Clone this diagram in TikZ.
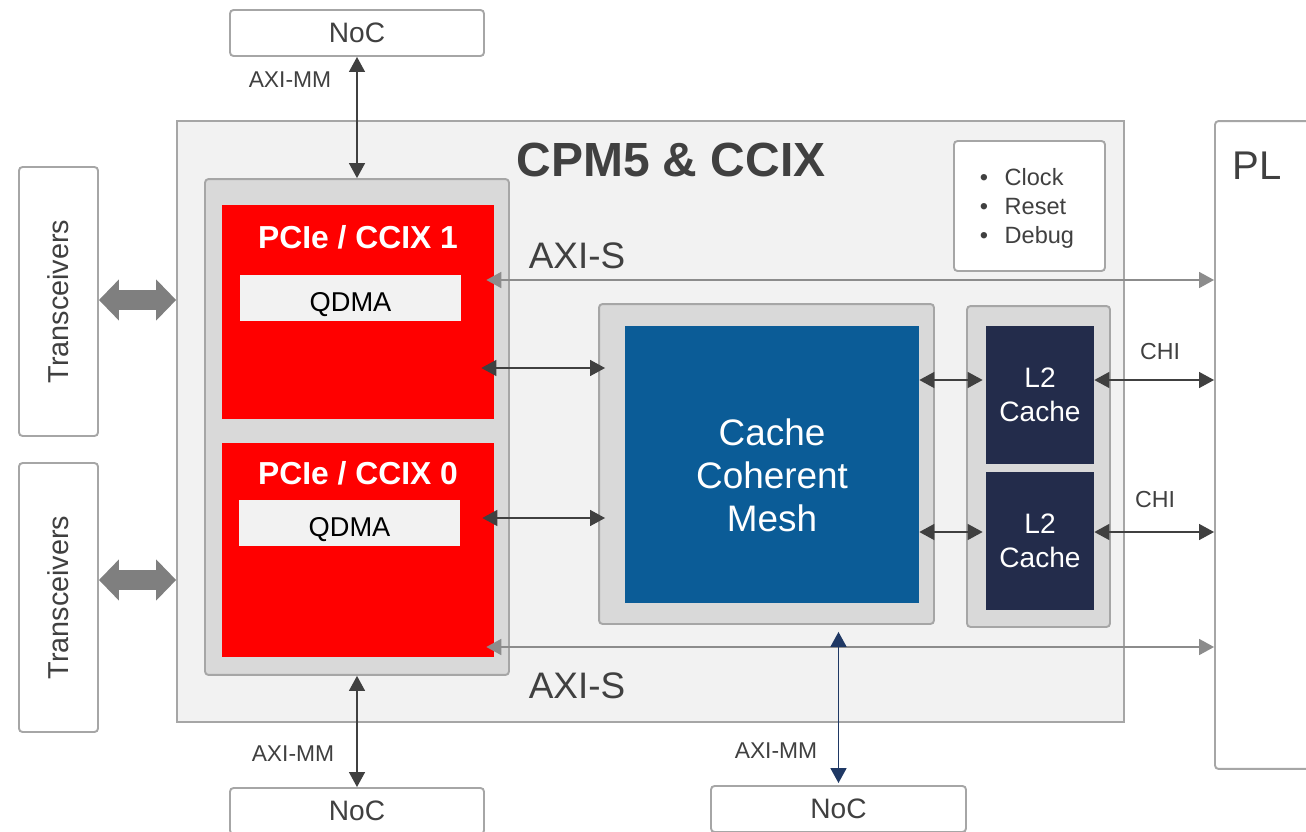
\documentclass[tikz,border=0pt]{standalone}
\usepackage{fontspec}
\setmainfont{Liberation Sans}
\usetikzlibrary{arrows.meta,positioning,calc}
\definecolor{boxline}{HTML}{A6A6A6}
\definecolor{cpmfill}{HTML}{F2F2F2}
\definecolor{holder}{HTML}{D9D9D9}
\definecolor{pcired}{HTML}{FF0000}
\definecolor{meshblue}{HTML}{0B5C97}
\definecolor{cachenavy}{HTML}{232C4B}
\definecolor{txtgray}{HTML}{404040}
\definecolor{arrdark}{HTML}{404040}
\definecolor{arrlight}{HTML}{8C8C8C}
\definecolor{fatgray}{HTML}{7F7F7F}
\definecolor{navyarr}{HTML}{1F3864}
\newcommand{\fs}[2]{\fontsize{#1}{#2}\selectfont}
\tikzset{
  blk/.style={draw=boxline, line width=1.1pt, rounded corners=2pt, inner sep=0pt, text=txtgray},
  core/.style={inner sep=0pt, text=white, align=center},
  lbl/.style={inner sep=0pt, text=txtgray},
  qbox/.style={fill=cpmfill, inner sep=0pt, text=black, minimum width=4.42cm, minimum height=0.92cm, font=\fs{15.5}{18}, text height=0.56cm, text depth=0.04cm},
  darr/.style={{Triangle[length=0.3cm,width=0.32cm]}-{Triangle[length=0.3cm,width=0.32cm]}, color=arrdark, line width=0.8pt},
  garr/.style={{Triangle[length=0.3cm,width=0.32cm]}-{Triangle[length=0.3cm,width=0.32cm]}, color=arrlight, line width=1pt},
  fatarr/.style={{Triangle[length=0.4cm,width=0.8cm]}-{Triangle[length=0.4cm,width=0.8cm]}, color=fatgray, line width=0.4cm}
}
\begin{document}
\begin{tikzpicture}[x=0.02cm,y=-0.02cm]
\path[use as bounding box, clip] (0,0) rectangle (1306,832);
% outer blocks
\node[blk, fill=white, minimum width=5.08cm, minimum height=0.92cm, font=\fs{16}{19}] (nocT) at (357,33) {NoC};
\node[blk, fill=white, minimum width=5.08cm, minimum height=0.92cm, font=\fs{16}{19}] (nocBL) at (357,811) {NoC};
\node[blk, fill=white, minimum width=5.1cm, minimum height=0.92cm, font=\fs{16}{19}] (nocBR) at (838.5,809) {NoC};
\node[blk, fill=white, minimum width=1.58cm, minimum height=5.38cm, font=\fs{16.4}{19}] (trans1) at (58.5,301.5) {\rotatebox{90}{Transceivers}};
\node[blk, fill=white, minimum width=1.58cm, minimum height=5.38cm, font=\fs{16.4}{19}] (trans0) at (58.5,597.5) {\rotatebox{90}{Transceivers}};
\node[blk, fill=white, minimum width=2.3cm, minimum height=12.96cm] (pl) at (1272.5,445) {};
\node[lbl, font=\fs{22.8}{26}] (plT) at (1257,166) {PL};
% CPM5 block
\node[blk, fill=cpmfill, rounded corners=0pt, minimum width=18.94cm, minimum height=12.02cm] (cpm) at (650.5,421.5) {};
\node[lbl, font=\fs{27.3}{32}\bfseries] (title) at (671,160) {CPM5 \& CCIX};
\node[blk, fill=white, minimum width=3.02cm, minimum height=2.6cm] (ctrl) at (1029.5,206) {};
\node[lbl, align=left, font=\fs{13.4}{16.5}] (ctrlT) at (1027,208) {\textbullet\hskip 0.33cm Clock\\\textbullet\hskip 0.33cm Reset\\\textbullet\hskip 0.33cm Debug};
\node[blk, fill=holder, minimum width=6.08cm, minimum height=9.92cm] (left) at (357,427) {};
\node[fill=pcired, inner sep=0pt, minimum width=5.44cm, minimum height=4.28cm] (pcie1) at (358,312) {};
\node[fill=pcired, inner sep=0pt, minimum width=5.44cm, minimum height=4.28cm] (pcie0) at (358,550) {};
\node[core, font=\fs{18.1}{22}\bfseries] (pcie1T) at (358,237) {PCIe / CCIX 1};
\node[core, font=\fs{18.1}{22}\bfseries] (pcie0T) at (358,473) {PCIe / CCIX 0};
\node[qbox] (qdma1) at (350.5,298) {QDMA};
\node[qbox] (qdma0) at (349.5,523) {QDMA};
\node[blk, fill=holder, minimum width=6.7cm, minimum height=6.4cm] (meshbox) at (766.5,464) {};
\node[fill=meshblue, inner sep=0pt, minimum width=5.88cm, minimum height=5.54cm] (mesh) at (772,464.5) {};
\node[core, font=\fs{21}{24.5}] (meshT) at (772,475) {Cache\\Coherent\\Mesh};
\node[blk, fill=holder, minimum width=2.86cm, minimum height=6.42cm] (l2box) at (1038.5,466.5) {};
\node[core, fill=cachenavy, minimum width=2.16cm, minimum height=2.76cm, font=\fs{16}{19.5}] (l2a) at (1040,395) {L2\\Cache};
\node[core, fill=cachenavy, minimum width=2.16cm, minimum height=2.76cm, font=\fs{16}{19.5}] (l2b) at (1040,541) {L2\\Cache};
% labels
\node[lbl, font=\fs{13}{15}] (mmT) at (290,80) {AXI-MM};
\node[lbl, font=\fs{13}{15}] (mmBL) at (293,754) {AXI-MM};
\node[lbl, font=\fs{13}{15}] (mmBR) at (776,751) {AXI-MM};
\node[lbl, font=\fs{21}{24}] (axisTT) at (577,256) {AXI-S};
\node[lbl, font=\fs{21}{24}] (axisBT) at (577,686) {AXI-S};
\node[lbl, font=\fs{13.2}{15}] (chiAT) at (1160,352) {CHI};
\node[lbl, font=\fs{13.2}{15}] (chiBT) at (1155,500) {CHI};
% rows of the links
\coordinate (axisT) at (0,280);
\coordinate (axisB) at (0,647);
\coordinate (lnkA) at (0,368);
\coordinate (lnkB) at (0,518);
\coordinate (chiA) at (0,380);
\coordinate (chiB) at (0,532);
\coordinate (fatA) at (0,300);
\coordinate (fatB) at (0,580);
% links
\path[fatarr]
(trans1.east |- fatA) edge (cpm.west |- fatA)
(trans0.east |- fatB) edge (cpm.west |- fatB);
\path[darr]
(nocT.south) edge (left.north)
(left.south) edge (nocBL.north)
([xshift=-0.26cm]pcie1.east |- lnkA) edge ([xshift=0.14cm]meshbox.west |- lnkA)
([xshift=-0.24cm]pcie0.east |- lnkB) edge ([xshift=0.14cm]meshbox.west |- lnkB)
(mesh.east |- chiA) edge ([xshift=-0.06cm]l2a.west |- chiA)
(mesh.east |- chiB) edge ([xshift=-0.06cm]l2b.west |- chiB)
(l2a.east |- chiA) edge (pl.west |- chiA)
(l2b.east |- chiB) edge (pl.west |- chiB);
\path[garr]
([xshift=-0.16cm]pcie1.east |- axisT) edge (pl.west |- axisT)
([xshift=-0.16cm]pcie0.east |- axisB) edge (pl.west |- axisB);
\path[darr, color=navyarr, line width=1pt]
([yshift=-0.14cm]nocBR.north |- meshbox.south) edge ([yshift=0.04cm]nocBR.north);
\end{tikzpicture}
\end{document}
